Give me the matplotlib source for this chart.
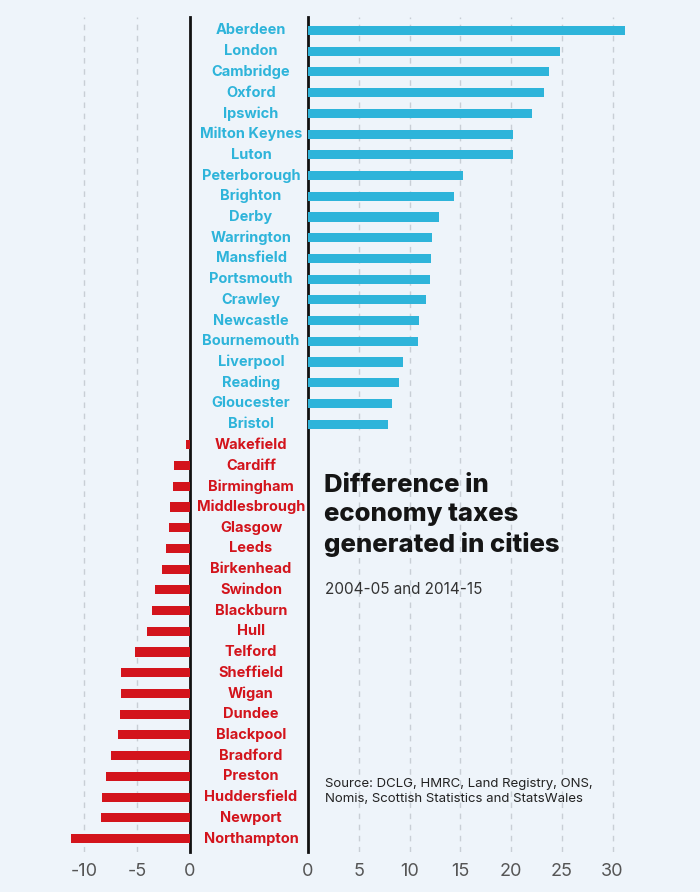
import matplotlib.pyplot as plt
from matplotlib.transforms import blended_transform_factory

# cities where economy taxes grew
pos_cities = ["Aberdeen", "London", "Cambridge", "Oxford", "Ipswich", "Milton Keynes",
              "Luton", "Peterborough", "Brighton", "Derby", "Warrington", "Mansfield",
              "Portsmouth", "Crawley", "Newcastle", "Bournemouth", "Liverpool", "Reading",
              "Gloucester", "Bristol"]
pos_values = [31.2, 24.8, 23.7, 23.3, 22.1, 20.2, 20.2, 15.3, 14.4, 12.9, 12.2, 12.1,
              12.0, 11.6, 10.9, 10.8, 9.4, 9.0, 8.3, 7.9]

# cities where they fell
neg_cities = ["Wakefield", "Cardiff", "Birmingham", "Middlesbrough", "Glasgow", "Leeds",
              "Birkenhead", "Swindon", "Blackburn", "Hull", "Telford", "Sheffield", "Wigan",
              "Dundee", "Blackpool", "Bradford", "Preston", "Huddersfield", "Newport",
              "Northampton"]
neg_values = [-0.4, -1.5, -1.6, -1.9, -2.0, -2.3, -2.6, -3.3, -3.6, -4.1, -5.2, -6.5, -6.5,
              -6.6, -6.8, -7.5, -7.9, -8.3, -8.4, -11.2]

left_ticks = [-10, -5, 0]
right_ticks = [0, 5, 10, 15, 20, 25, 30]

BG = "#EEF4FA"
BLUE = "#2EB4DA"
RED = "#D3141C"
plt.rcParams['font.family'] = ['Inter', 'DejaVu Sans']

W, H = 700, 892
fig = plt.figure(figsize=(W / 100, H / 100), dpi=100, facecolor=BG)

top_px, bot_px = 17, 852
ax_b = (H - bot_px) / H
ax_h = (bot_px - top_px) / H

# left panel: 0 at x=190px, ~10.6 px per unit
lx0, lx1 = 20, 190
ax_l = fig.add_axes([lx0 / W, ax_b, (lx1 - lx0) / W, ax_h], facecolor=BG)
ax_l.set_xlim(-(lx1 - lx0) / 10.6, 0)

# right panel: 0 at x=308px, ~10.15 px per unit
rx0, rx1 = 308, 685
ax_r = fig.add_axes([rx0 / W, ax_b, (rx1 - rx0) / W, ax_h], facecolor=BG)
ax_r.set_xlim(0, (rx1 - rx0) / 10.15)

n = len(pos_cities) + len(neg_cities)
pos_y = list(range(len(pos_cities)))
neg_y = list(range(len(pos_cities), n))

ax_r.barh(pos_y, pos_values, height=0.44, color=BLUE, zorder=3)
ax_l.barh(neg_y, neg_values, height=0.44, color=RED, zorder=3)

for ax, ticks in [(ax_l, left_ticks), (ax_r, right_ticks)]:
    ax.set_ylim(n - 0.35, -0.65)
    ax.set_yticks([])
    ax.set_xticks(ticks)
    ax.set_xticklabels([str(t) for t in ticks])
    ax.tick_params(axis='x', length=0, pad=8, labelsize=13, labelcolor="#555555")
    for t in ticks:
        if t != 0:
            ax.axvline(t, color="#C8CED5", lw=1, ls=(0, (4, 4)), zorder=1)
    for s in ax.spines.values():
        s.set_visible(False)

ax_l.spines['right'].set_visible(True)
ax_l.spines['right'].set_linewidth(2)
ax_l.spines['right'].set_color("#111111")
ax_r.spines['left'].set_visible(True)
ax_r.spines['left'].set_linewidth(2)
ax_r.spines['left'].set_color("#111111")

# city labels in the gap between the two panels
tr = blended_transform_factory(fig.transFigure, ax_r.transData)
for y, name in zip(pos_y, pos_cities):
    fig.text(251 / W, y, name, transform=tr, ha='center', va='center',
             fontsize=10.5, fontweight='bold', color=BLUE)
for y, name in zip(neg_y, neg_cities):
    fig.text(251 / W, y, name, transform=tr, ha='center', va='center',
             fontsize=10.5, fontweight='bold', color=RED)

fig.text(324 / W, 1 - 474 / H, "Difference in\neconomy taxes\ngenerated in cities",
         ha='left', va='top', fontsize=18.5, fontweight='heavy', color="#151515",
         linespacing=1.32)
fig.text(325 / W, 1 - 589 / H, "2004-05 and 2014-15", ha='left', va='center',
         fontsize=11, color="#333333")
fig.text(325 / W, 1 - 778 / H,
         "Source: DCLG, HMRC, Land Registry, ONS,\nNomis, Scottish Statistics and StatsWales",
         ha='left', va='top', fontsize=9.5, color="#222222", linespacing=1.3)

fig.savefig("out.png", dpi=100, facecolor=BG)
